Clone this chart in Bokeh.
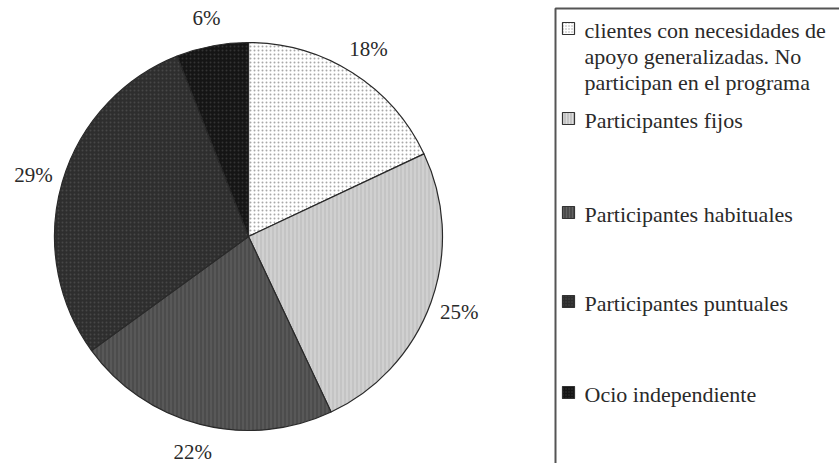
import math
from bokeh.plotting import figure
from bokeh.models import ColumnDataSource, Range1d
from bokeh.core.properties import value
from bokeh.embed import file_html
from bokeh.resources import INLINE

# Participation groups (clockwise from 12 o'clock)
categories = [
    "clientes con necesidades de\napoyo generalizadas. No\nparticipan en el programa",
    "Participantes fijos",
    "Participantes habituales",
    "Participantes puntuales",
    "Ocio independiente",
]
shares = [18, 25, 22, 29, 6]
fills = ["#ffffff", "#c4c4c4", "#4c4c4c", "#2e2e2e", "#151515"]
hatches = ["dot", "vertical_line", "vertical_line", "dot", "dot"]
hatch_colors = ["#a8a8a8", "#dcdcdc", "#636363", "#474747", "#333333"]

W, H = 839, 463
FONT = value("Liberation Serif")

p = figure(width=W, height=H, output_backend="svg", toolbar_location=None,
           x_range=Range1d(0, W), y_range=Range1d(0, H),
           x_axis_type=None, y_axis_type=None, min_border=0)
p.grid.visible = False
p.outline_line_color = None

cx, cy, r = 248, H - 236, 194
total = sum(shares)
starts, ends, lx, ly, labels = [], [], [], [], []
cum = 0.0
for s in shares:
    a0 = math.pi / 2 - 2 * math.pi * cum / total
    a1 = math.pi / 2 - 2 * math.pi * (cum + s) / total
    starts.append(a0)
    ends.append(a1)
    mid = (a0 + a1) / 2
    lx.append(cx + 224 * math.cos(mid))
    ly.append(cy + 222 * math.sin(mid))
    labels.append(f"{s}%")
    cum += s

src = ColumnDataSource(dict(start=starts, end=ends, fill=fills,
                            hatch=hatches, hcol=hatch_colors))
p.wedge(x=cx, y=cy, radius=r, start_angle="start", end_angle="end",
        direction="clock", source=src, fill_color="fill",
        line_color="#2a2a2a", line_width=1.2,
        hatch_pattern="hatch", hatch_color="hcol", hatch_scale=4,
        hatch_weight=1)

p.text(x=lx, y=ly, text=labels, text_font=FONT, text_font_size="21px",
       text_color="#2a2a2a", text_align="center", text_baseline="middle")

# Legend box
p.quad(left=555, right=W + 10, top=H - 8, bottom=-10,
       fill_color="white", line_color="#555555", line_width=2)

row_y = [28, 118, 212, 301, 392]
sq_y = [H - y for y in row_y]
p.rect(x=568, y=sq_y, width=12, height=12, width_units="screen",
       height_units="screen", fill_color=fills, line_color="#333333",
       line_width=1.2, hatch_pattern=hatches, hatch_color=hatch_colors,
       hatch_scale=3)
p.text(x=584, y=[y + 11 for y in sq_y], text=categories, text_font=FONT,
       text_font_size="22px", text_color="#2a2a2a", text_align="left",
       text_baseline="top", text_line_height=1.04)

open("out.html", "w").write(file_html(p, INLINE))
